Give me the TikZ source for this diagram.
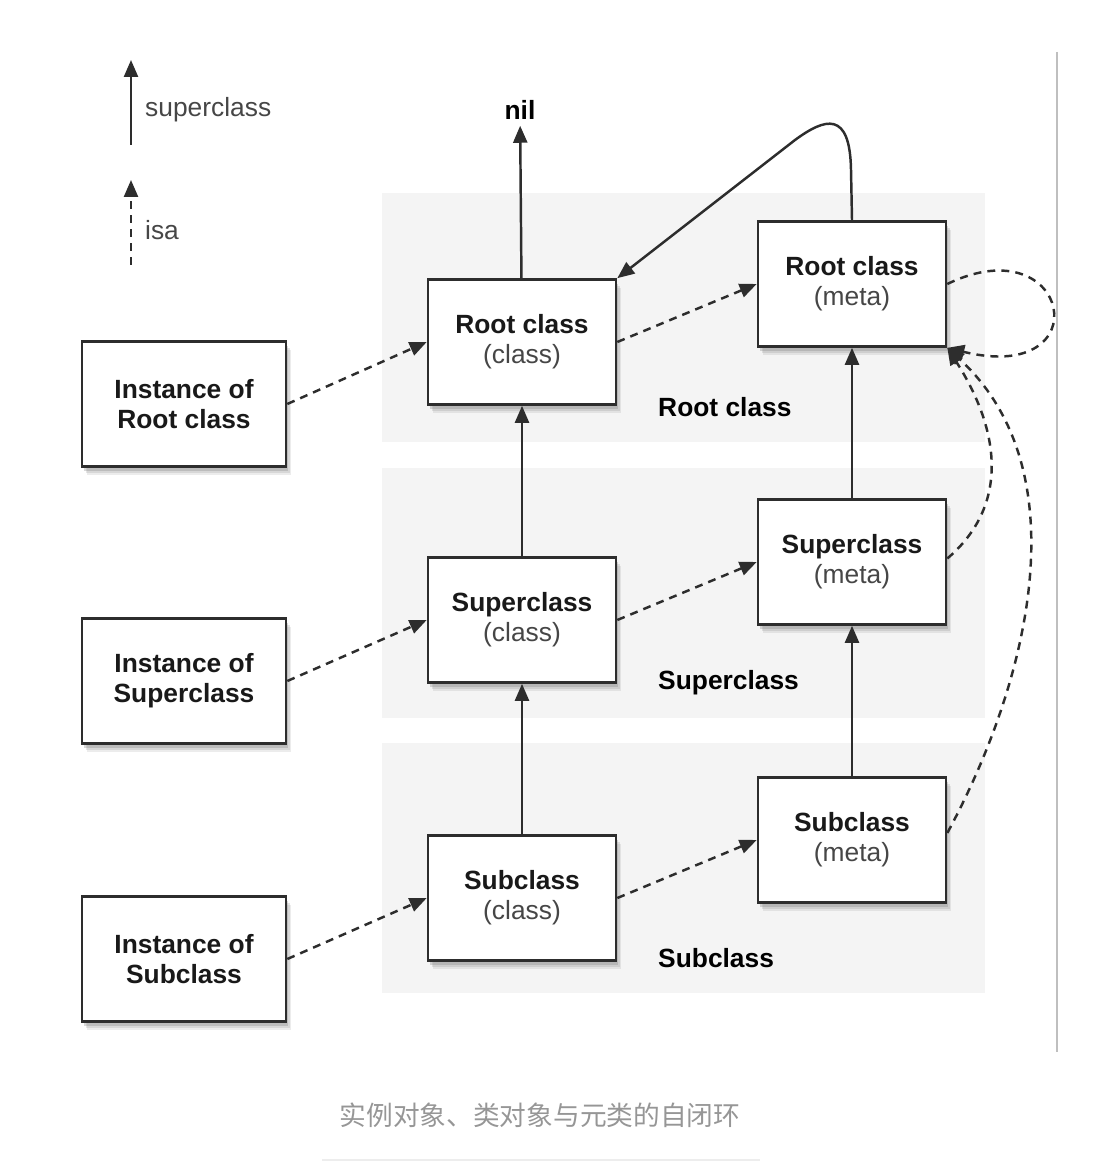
\documentclass[tikz,border=0pt]{standalone}
\usepackage{fontspec}
\setmainfont{Liberation Sans}
\newfontfamily\cjk{Noto Sans CJK SC}
\usetikzlibrary{arrows.meta,shadows}
\definecolor{panel}{RGB}{244,244,244}
\definecolor{edge}{RGB}{45,45,45}
\definecolor{softtext}{RGB}{70,70,70}
\definecolor{caption}{RGB}{150,150,150}
\newcommand\boxfont{\fontsize{15}{17}\selectfont}
\tikzset{
  objbox/.style={draw=edge,line width=1.5pt,fill=white,minimum height=2.5cm,
    align=center,font=\boxfont,text=black!90,
    drop shadow={shadow xshift=3pt,shadow yshift=-5pt,opacity=.15},
    drop shadow={shadow xshift=2.2pt,shadow yshift=-3.8pt,opacity=.2},
    drop shadow={shadow xshift=1.4pt,shadow yshift=-2.6pt,opacity=.3}},
  clsbox/.style={objbox,minimum width=3.76cm},
  instbox/.style={objbox,minimum width=4.08cm},
  superarrow/.style={draw=edge,line width=1.4pt,-{Triangle[length=3.4mm,width=2.8mm]}},
  isaarrow/.style={superarrow,dash pattern=on 4.5pt off 3.5pt},
}

\begin{document}
\begin{tikzpicture}[x=0.2mm,y=-0.2mm]
        \useasboundingbox (0,0) rectangle (1092,1164);
        % panels
        \fill[panel] (382,193) rectangle (985,442);
        \fill[panel] (382,468) rectangle (985,718);
        \fill[panel] (382,743) rectangle (985,993);
        \node[anchor=west,font=\boxfont\bfseries] (lbl-root) at (652,407) {Root class};
        \node[anchor=west,font=\boxfont\bfseries] (lbl-super) at (652,683) {Superclass};
        \node[anchor=west,font=\boxfont\bfseries] (lbl-sub) at (652,958) {Subclass};
        % legend
        \coordinate (leg-s0) at (131,145);
        \coordinate (leg-s1) at (131,60);
        \coordinate (leg-i0) at (131,265);
        \coordinate (leg-i1) at (131,180);
        \draw[superarrow] (leg-s0) -- (leg-s1);
        \draw[isaarrow] (leg-i0) -- (leg-i1);
        \node[anchor=west,font=\boxfont,text=softtext] (leg-super) at (139,110) {superclass};
        \node[anchor=west,font=\boxfont,text=softtext] (leg-isa) at (139,230) {isa};
        % objects
        \node[instbox] (inst-root) at (184,404) {\bfseries Instance of\\\bfseries Root class};
        \node[instbox] (inst-super) at (184,681) {\bfseries Instance of\\\bfseries Superclass};
        \node[instbox] (inst-sub) at (184,959) {\bfseries Instance of\\\bfseries Subclass};
        \node[clsbox] (cls-root) at (522,342) {\bfseries Root class\\\color{softtext}(class)};
        \node[clsbox] (cls-super) at (522,620) {\bfseries Superclass\\\color{softtext}(class)};
        \node[clsbox] (cls-sub) at (522,898) {\bfseries Subclass\\\color{softtext}(class)};
        \node[clsbox] (meta-root) at (852,284) {\bfseries Root class\\\color{softtext}(meta)};
        \node[clsbox] (meta-super) at (852,562) {\bfseries Superclass\\\color{softtext}(meta)};
        \node[clsbox] (meta-sub) at (852,840) {\bfseries Subclass\\\color{softtext}(meta)};
        \node[font=\boxfont\bfseries] (nil) at (520,110) {nil};
        % superclass links
        \draw[superarrow] (cls-root) -- (nil);
        \draw[superarrow] (cls-super) -- (cls-root);
        \draw[superarrow] (cls-sub) -- (cls-super);
        \draw[superarrow] (meta-super) -- (meta-root);
        \draw[superarrow] (meta-sub) -- (meta-super);
        \draw[superarrow] (meta-root.north) -- (851,170) .. controls (850,110) and (825,118) .. (795,140) -- (cls-root.north east);
        % isa links
        \draw[isaarrow] (inst-root.east) -- (cls-root.west);
        \draw[isaarrow] (inst-super.east) -- (cls-super.west);
        \draw[isaarrow] (inst-sub.east) -- (cls-sub.west);
        \draw[isaarrow] (cls-root.east) -- (meta-root.west);
        \draw[isaarrow] (cls-super.east) -- (meta-super.west);
        \draw[isaarrow] (cls-sub.east) -- (meta-sub.west);
        \draw[isaarrow] (meta-root.east) .. controls +(124,-60) and +(154,38) .. (meta-root.south east);
        \draw[isaarrow] ([yshift=2pt]meta-super.east) .. controls (1010,505) and (1000,430) .. (meta-root.south east);
        \draw[isaarrow] ([yshift=4pt]meta-sub.east) .. controls (1030,680) and (1080,470) .. (meta-root.south east);
        % frame and caption
        \draw[black!25,line width=1pt] (1057,52) -- (1057,1052);
        \node[font=\cjk\fontsize{15.2}{16}\selectfont,text=caption] (cap) at (540,1115) {实例对象、类对象与元类的自闭环};
        \draw[black!7,line width=1.5pt] (322,1160) -- (760,1160);
      \end{tikzpicture}
\end{document}
